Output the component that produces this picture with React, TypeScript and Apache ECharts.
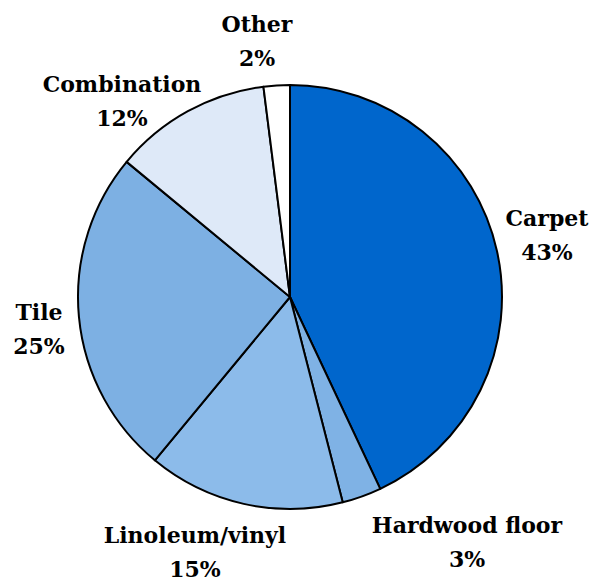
import React, { useEffect, useRef } from "react";
import * as echarts from "echarts";

const categories = ["Carpet", "Hardwood floor", "Linoleum/vinyl", "Tile", "Combination", "Other"];
const values = [43, 3, 15, 25, 12, 2];
const colors = ["#0066CC", "#7FB2E5", "#8CBBEA", "#7DB0E3", "#DEE9F8", "#FFFFFF"];
// label block centers relative to the pie centre (px)
const labelOffsets: [number, number][] = [
  [257, -62],
  [177, 245],
  [-95, 255],
  [-251, 32],
  [-168, -196],
  [-33, -256],
];

const CX = 290;
const CY = 297;
const FONT = "DejaVu Serif";

export default function App() {
  const ref = useRef<HTMLDivElement>(null);
  useEffect(() => {
    const chart = echarts.init(ref.current!, null, { renderer: "svg" });
    chart.setOption({
      animation: false,
      backgroundColor: "#ffffff",
      series: [
        {
          type: "pie",
          center: [CX, CY],
          radius: 212,
          startAngle: 90,
          clockwise: true,
          avoidLabelOverlap: false,
          data: categories.map((name, i) => ({
            name,
            value: values[i],
            itemStyle: { color: colors[i] },
          })),
          itemStyle: { borderColor: "#000000", borderWidth: 2 },
          label: {
            show: true,
            position: "outside",
            formatter: "{b}\n{c}%",
            fontFamily: FONT,
            fontWeight: "bold",
            fontSize: 22,
            lineHeight: 34,
            color: "#000000",
            align: "center",
          },
          labelLine: { show: false },
          labelLayout: (params: any) => {
            const o = labelOffsets[params.dataIndex];
            return {
              x: CX + o[0],
              y: CY + o[1],
              align: "center",
              verticalAlign: "middle",
            };
          },
          emphasis: { disabled: true },
        },
      ],
    });
    return () => chart.dispose();
  }, []);
  return (
    <div
      ref={ref}
      style={{ position: "fixed", left: 0, top: 0, width: 589, height: 581 }}
    />
  );
}
